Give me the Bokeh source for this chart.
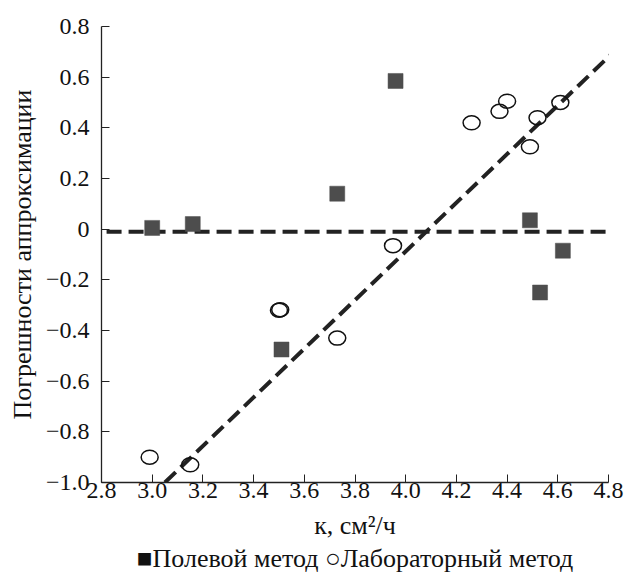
from bokeh.plotting import figure
from bokeh.models import FixedTicker, Range1d
from bokeh.embed import file_html
from bokeh.resources import INLINE

# --- data ---
field_x = [3.00, 3.16, 3.73, 3.96, 3.51, 4.49, 4.62, 4.53]
field_y = [0.005, 0.02, 0.14, 0.585, -0.475, 0.035, -0.085, -0.25]

lab_x = [2.99, 3.15, 3.50, 3.505, 3.73, 3.95, 4.26, 4.37, 4.40, 4.52, 4.49, 4.61]
lab_y = [-0.90, -0.93, -0.32, -0.318, -0.43, -0.065, 0.42, 0.465, 0.505, 0.44, 0.325, 0.50]

zero_x = [2.82, 4.79]
zero_y = [-0.01, -0.01]

fit_x = [3.05, 4.81]
fit_y = [-1.0, 0.69]

x_ticks = [2.8, 3.0, 3.2, 3.4, 3.6, 3.8, 4.0, 4.2, 4.4, 4.6, 4.8]
x_tick_labels = ["2.8", "3.0", "3.2", "3.4", "3.6", "3.8", "4.0", "4.2", "4.4", "4.6", "4.8"]
y_ticks = [-1.0, -0.8, -0.6, -0.4, -0.2, 0.0, 0.2, 0.4, 0.6, 0.8]
y_tick_labels = ["\u22121.0", "\u22120.8", "\u22120.6", "\u22120.4", "\u22120.2", "0", "0.2", "0.4", "0.6", "0.8"]

x_label = "к, см²/ч"
y_label = "Погрешности аппроксимации"
legend_labels = ["Полевой метод", "Лабораторный метод"]
legend_symbols = ["\u25a0", "\u25cb"]

FONT = "Liberation Serif"
FS = "24px"
LFS = "26px"

p = figure(frame_width=507, frame_height=456, output_backend="svg", toolbar_location=None,
           x_range=Range1d(2.8, 4.8), y_range=Range1d(-1.0, 0.8),
           min_border_left=101, min_border_right=27, min_border_top=26, min_border_bottom=0)
p.outline_line_color = None
p.xgrid.visible = False
p.ygrid.visible = False
p.background_fill_color = "white"
p.border_fill_color = "white"

# dashed lines
p.line(zero_x, zero_y, line_color="#222222", line_width=4, line_dash="15 7")
p.line(fit_x, fit_y, line_color="#222222", line_width=4, line_dash="15 7")

r_field = p.rect(field_x, field_y, width=15, height=15, width_units="screen", height_units="screen",
                 fill_color="#4d4d4d", line_color="#4d4d4d", line_width=0.5)
r_lab = p.ellipse(lab_x, lab_y, width=17, height=14, width_units="screen", height_units="screen",
                  fill_color=None, line_color="#111111", line_width=1.5)

# key line typeset under the axis title, centred like in the reference
key_line = legend_symbols[0] + legend_labels[0] + " " + legend_symbols[1] + legend_labels[1]

for ax, ticks, labels, lab in ((p.xaxis[0], x_ticks, x_tick_labels, x_label + "\n" + key_line),
                               (p.yaxis[0], y_ticks, y_tick_labels, y_label)):
    ax.ticker = FixedTicker(ticks=ticks)
    ax.major_label_overrides = {t: l for t, l in zip(ticks, labels)}
    ax.minor_tick_line_color = None
    ax.major_tick_in = 8
    ax.major_tick_out = 0
    ax.axis_line_width = 1.3
    ax.axis_line_color = "#222222"
    ax.major_tick_line_color = "#222222"
    ax.major_label_text_font = FONT
    ax.major_label_text_font_size = FS
    ax.major_label_text_color = "#111111"
    ax.axis_label = lab
    ax.axis_label_text_font = FONT
    ax.axis_label_text_font_size = LFS
    ax.axis_label_text_font_style = "normal"
    ax.axis_label_text_color = "#111111"
    ax.axis_label_text_line_height = 1.15

p.xaxis.major_label_standoff = 0
p.xaxis.axis_label_standoff = 10
p.yaxis.major_label_standoff = 12
p.yaxis.axis_label_standoff = 6

open("out.html", "w").write(file_html(p, INLINE))
